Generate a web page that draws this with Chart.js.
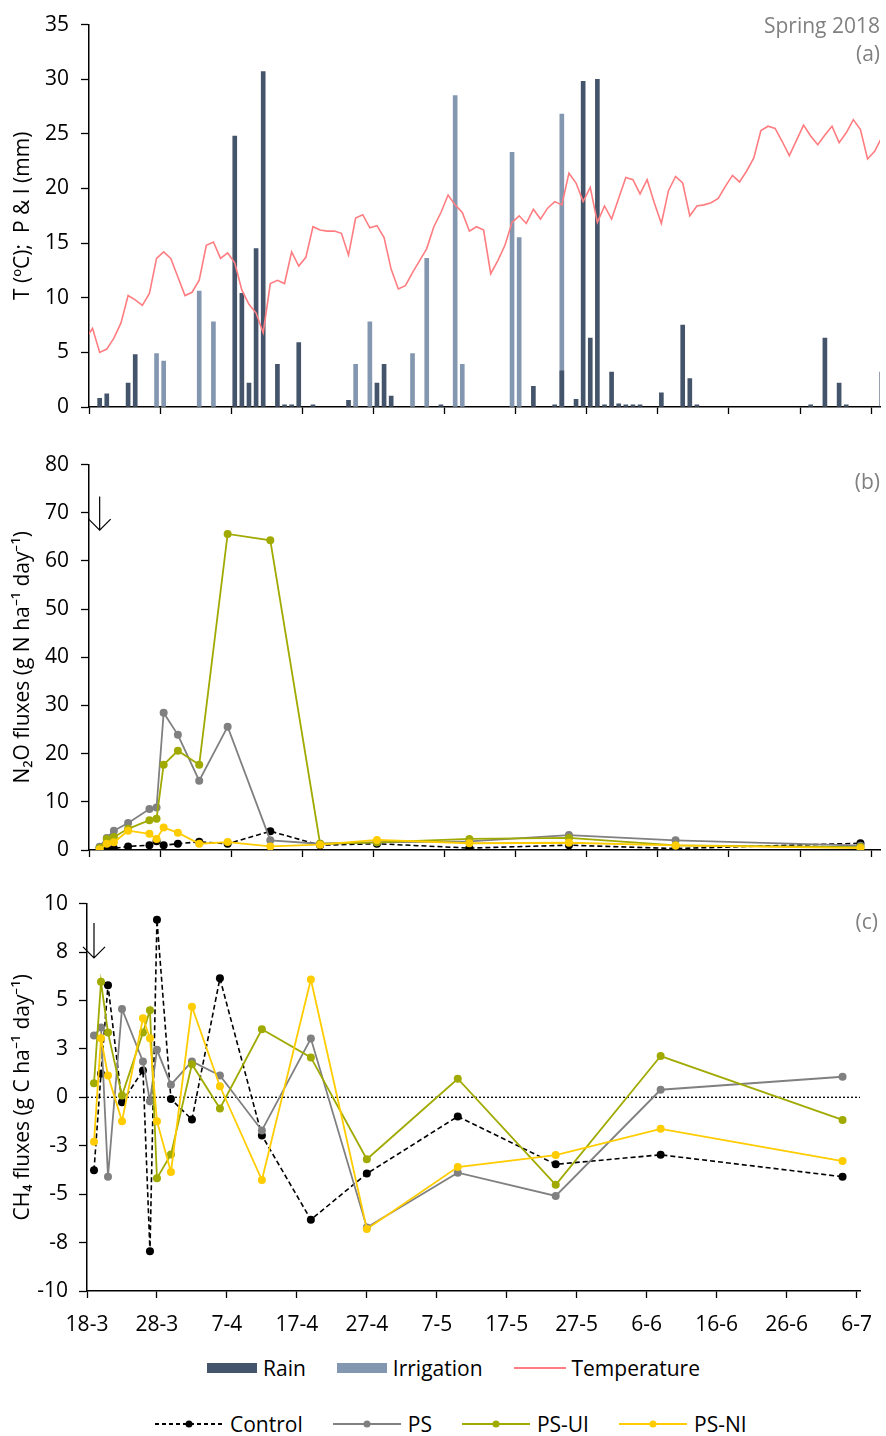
<!DOCTYPE html>
<html>
<head>
<meta charset="utf-8">
<script src="https://cdn.jsdelivr.net/npm/chart.js@4.4.1/dist/chart.umd.min.js"></script>
<style>
  body { margin: 0; background: #fff; font-family: "Open Sans", sans-serif; }
  #page { position: relative; width: 886px; height: 1436px; overflow: hidden; }
  canvas { position: absolute; left: 0; }
  .tag { position: absolute; color: #808080; font-size: 21px; line-height: 24px; text-align: right; }
  .legend { position: absolute; display: flex; align-items: center; height: 26px; font-size: 21px; color: #000; white-space: nowrap; }
  .legend .item { display: flex; align-items: center; }
  .legend svg { display: block; }
</style>
</head>
<body>
<div id="page">
  <canvas id="chartA" width="886" height="440" style="top:0"></canvas>
  <canvas id="chartB" width="886" height="440" style="top:440px"></canvas>
  <canvas id="chartC" width="886" height="470" style="top:880px"></canvas>
  <div class="tag" style="right:6px; top:13px">Spring 2018</div>
  <div class="tag" style="right:6px; top:41px">(a)</div>
  <div class="tag" style="right:6px; top:469px">(b)</div>
  <div class="tag" style="right:8px; top:909px">(c)</div>
  <div class="legend" id="legendWeather" style="left:207px; top:1355px"></div>
  <div class="legend" id="legendSeries" style="left:155px; top:1411px"></div>
</div>
<script>
// x values are days since 18-3 (2018)
const dateLabels = ["18-3", "28-3", "7-4", "17-4", "27-4", "7-5", "17-5", "27-5", "6-6", "16-6", "26-6", "6-7"]

// (a) daily mean air temperature, first value is 17-3 (day -1)
const tempC = [6.2, 7.2, 5.0, 5.3, 6.3, 7.7, 10.2, 9.8, 9.3, 10.4, 13.6, 14.2, 13.6, 11.9, 10.2, 10.5, 11.6, 14.8, 15.1, 13.6,
  14.1, 13.2, 10.7, 9.4, 8.6, 6.8, 11.3, 11.6, 11.3, 14.2, 12.9, 13.7, 16.5, 16.2, 16.1, 16.1, 15.9, 13.9, 17.3, 17.6,
  16.4, 16.6, 15.5, 12.6, 10.8, 11.1, 12.3, 13.4, 14.5, 16.5, 17.8, 19.4, 18.5, 17.8, 16.1, 16.5, 16.2, 12.2, 13.4, 14.8,
  16.9, 17.5, 16.8, 18.1, 17.2, 18.2, 18.8, 18.5, 21.4, 20.5, 18.8, 20.1, 16.9, 18.4, 17.2, 19.1, 21.0, 20.8, 19.5, 20.8,
  18.7, 16.8, 19.8, 21.1, 20.5, 17.5, 18.4, 18.5, 18.7, 19.1, 20.2, 21.2, 20.6, 21.6, 22.8, 25.3, 25.7, 25.5, 24.3, 23.0,
  24.4, 25.8, 24.8, 24.0, 24.9, 25.7, 24.2, 25.1, 26.3, 25.4, 22.7, 23.4, 24.7]
const tempFirstDay = -1

// (a) rain and irrigation (mm)
const rainDays = [1, 2, 5, 6, 20, 21, 22, 23, 24, 26, 27, 28, 29, 31, 36, 40, 41, 42, 49, 62, 65, 66, 68, 69, 70, 71, 72, 73, 74, 75, 76, 77, 80, 83, 84, 85, 101, 103, 105, 106, 111]
const rainMm = [0.8, 1.2, 2.2, 4.8, 24.8, 10.4, 2.2, 14.5, 30.7, 3.9, 0.2, 0.2, 5.9, 0.2, 0.6, 2.2, 3.9, 1.0, 0.2, 1.9, 0.2, 3.3, 0.7, 29.8, 6.3, 30.0, 0.2, 3.2, 0.3, 0.2, 0.2, 0.2, 1.3, 7.5, 2.6, 0.2, 0.2, 6.3, 2.2, 0.2, 3.2]
const irrDays = [9, 10, 15, 17, 37, 39, 45, 47, 51, 52, 59, 60, 66]
const irrMm = [4.9, 4.2, 10.6, 7.8, 3.9, 7.8, 4.9, 13.6, 28.5, 3.9, 23.3, 15.5, 26.8]

// (b) and (c) sampling days and fluxes
const sampleDays = [1, 2, 3, 5, 8, 9, 10, 12, 15, 19, 25, 32, 40, 53, 67, 82, 108]
const seriesNames = ["Control", "PS", "PS-UI", "PS-NI"]
const seriesColors = ["#000000", "#808080", "#a0aa00", "#ffcc00"]

const n2oControl = [0.5, 0.4, 0.3, 0.75, 1.0, 1.8, 1.0, 1.3, 1.7, 1.3, 3.9, 1.0, 1.3, 0.4, 1.0, 0.3, 1.4]
const n2oPS = [0.7, 2.5, 4.0, 5.6, 8.5, 8.8, 28.5, 23.9, 14.4, 25.6, 2.0, 1.3, 1.6, 1.8, 3.1, 2.0, 0.9]
const n2oPSUI = [0.4, 2.3, 2.7, 4.4, 6.2, 6.5, 17.7, 20.6, 17.7, 65.6, 64.3, 1.3, 1.6, 2.3, 2.5, 0.95, 0.6]
const n2oPSNI = [0.1, 1.3, 1.6, 4.0, 3.35, 2.3, 4.65, 3.6, 1.3, 1.65, 0.75, 1.1, 2.1, 1.4, 1.5, 0.95, 0.4]

const ch4Control = [-3.77, 1.22, 5.79, -0.26, 1.39, -7.95, 9.17, -0.09, -1.15, 6.14, -1.97, -6.32, -3.94, -0.99, -3.46, -2.97, -4.10]
const ch4PS = [3.19, 3.6, -4.1, 4.56, 1.85, -0.2, 2.45, 0.65, 1.85, 1.13, -1.71, 3.03, -6.72, -3.89, -5.09, 0.39, 1.06]
const ch4PSUI = [0.72, 5.96, 3.34, 0.09, 3.34, 4.5, -4.18, -2.95, 1.71, -0.58, 3.51, 2.06, -3.2, 0.96, -4.52, 2.13, -1.17]
const ch4PSNI = [-2.3, 3.05, 1.13, -1.23, 4.08, 3.05, -1.23, -3.86, 4.68, 0.57, -4.27, 6.08, -6.8, -3.6, -2.98, -1.63, -3.29]
const ch4TickLabels = ["-10", "-8", "-5", "-3", "0", "3", "5", "8", "10"]

// fertiliser application marker (day, arrow top, arrow tip)
const fertDay = 1
const n2oArrow = [73.4, 66.4]
const ch4Arrow = [9.0, 7.2]

Chart.defaults.font.family = "'Open Sans', sans-serif"
Chart.defaults.font.size = 21
Chart.defaults.color = "#000"

const tickFont = { size: 21 }

const arrowPlugin = {
  id: "arrow",
  afterDatasetsDraw(chart, args, opts) {
    const { ctx, scales } = chart
    const px = scales.x.getPixelForValue(opts.x)
    const top = scales.y.getPixelForValue(opts.from)
    const tip = scales.y.getPixelForValue(opts.to)
    ctx.save()
    ctx.strokeStyle = "#000"
    ctx.lineWidth = 1.2
    ctx.beginPath()
    ctx.moveTo(px, top)
    ctx.lineTo(px, tip)
    ctx.moveTo(px - 11, tip - 11)
    ctx.lineTo(px, tip)
    ctx.lineTo(px + 11, tip - 11)
    ctx.stroke()
    ctx.restore()
  },
}

const zeroLinePlugin = {
  id: "zeroLine",
  beforeDatasetsDraw(chart) {
    const { ctx, chartArea, scales } = chart
    const y = scales.y.getPixelForValue(0)
    ctx.save()
    ctx.strokeStyle = "#000"
    ctx.lineWidth = 1.3
    ctx.setLineDash([2, 2])
    ctx.beginPath()
    ctx.moveTo(chartArea.left, y)
    ctx.lineTo(chartArea.right, y)
    ctx.stroke()
    ctx.restore()
  },
}

function xAxis(max, height, showLabels) {
  return {
    type: "linear", min: 0, max, offset: false,
    ticks: {
      stepSize: 10, includeBounds: false, display: showLabels, font: tickFont, padding: 14,
      maxRotation: 0, autoSkip: false,
      callback: (v) => dateLabels[Math.round(v / 10)],
    },
    grid: { offset: false, drawOnChartArea: false, tickLength: 7, tickColor: "#000", tickWidth: 1.3 },
    border: { color: "#000", width: 1.5 },
    afterFit: (s) => { s.height = height },
  }
}

function yAxis(min, max, step, width, title, padding) {
  return {
    min, max,
    ticks: { stepSize: step, font: tickFont, padding },
    grid: { drawOnChartArea: false, tickLength: 8, tickColor: "#000", tickWidth: 1.3 },
    border: { color: "#000", width: 1.5 },
    title: { display: true, text: title, font: { size: 21 }, padding: { top: 10, bottom: 0 } },
    afterFit: (s) => { s.width = width },
  }
}

function fluxSets(values, shift) {
  return values.map((vals, k) => ({
    type: "line",
    label: seriesNames[k],
    data: sampleDays.map((d, i) => ({ x: d + shift, y: vals[i] })),
    borderColor: seriesColors[k],
    backgroundColor: seriesColors[k],
    borderWidth: k === 0 ? 1.6 : 1.8,
    borderDash: k === 0 ? [5, 3] : [],
    pointRadius: 4,
    pointBorderWidth: 0,
    pointBackgroundColor: seriesColors[k],
    order: 3 - k,
  }))
}

const common = {
  responsive: false,
  animation: false,
  devicePixelRatio: 1,
  plugins: { legend: { display: false }, tooltip: { enabled: false } },
}

// (a) weather
new Chart(document.getElementById("chartA"), {
  type: "bar",
  data: {
    datasets: [
      {
        type: "line", label: "Temperature",
        data: tempC.map((t, i) => ({ x: tempFirstDay + i + 0.5, y: t })),
        borderColor: "#ff7c80", borderWidth: 1.6, pointRadius: 0, order: 0,
      },
      {
        label: "Rain",
        data: rainDays.map((d, i) => ({ x: d + 0.5, y: rainMm[i] })),
        backgroundColor: "#44546a", barThickness: 4, grouped: false, order: 1,
      },
      {
        label: "Irrigation",
        data: irrDays.map((d, i) => ({ x: d + 0.5, y: irrMm[i] })),
        backgroundColor: "#8497b0", barThickness: 4, grouped: false, order: 2,
      },
    ],
  },
  options: {
    ...common,
    layout: { padding: { top: 19, right: 6, left: 0, bottom: 0 } },
    scales: {
      x: xAxis(111.25, 33, false),
      y: yAxis(0, 35, 5, 89, "T (ºC);  P & I (mm)", 12),
    },
  },
})

// (b) N2O
new Chart(document.getElementById("chartB"), {
  type: "line",
  data: { datasets: fluxSets([n2oControl, n2oPS, n2oPSUI, n2oPSNI], 0.5) },
  options: {
    ...common,
    layout: { padding: { top: 21, right: 6, left: 0, bottom: 0 } },
    plugins: { ...common.plugins, arrow: { x: fertDay + 0.5, from: n2oArrow[0], to: n2oArrow[1] } },
    scales: {
      x: xAxis(111.25, 30, false),
      y: yAxis(0, 80, 10, 89, "N₂O fluxes (g N ha⁻¹ day⁻¹)", 12),
    },
  },
  plugins: [arrowPlugin],
})

// (c) CH4
new Chart(document.getElementById("chartC"), {
  type: "line",
  data: { datasets: fluxSets([ch4Control, ch4PS, ch4PSUI, ch4PSNI], 0) },
  options: {
    ...common,
    layout: { padding: { top: 22, right: 18, left: 0, bottom: 0 } },
    plugins: { ...common.plugins, arrow: { x: fertDay, from: ch4Arrow[0], to: ch4Arrow[1] } },
    scales: {
      x: xAxis(110.5, 59, true),
      y: {
        ...yAxis(-10, 10, 2.5, 87, "CH₄ fluxes (g C ha⁻¹ day⁻¹)", 11),
        ticks: { stepSize: 2.5, font: tickFont, padding: 11, callback: (v) => ch4TickLabels[Math.round((v + 10) / 2.5)] },
      },
    },
  },
  plugins: [zeroLinePlugin, arrowPlugin],
})

// legends
const weatherNames = ["Rain", "Irrigation", "Temperature"]
const weatherColors = ["#44546a", "#8497b0", "#ff7c80"]

function swatchWeather(k) {
  if (k < 2) return `<svg width="50" height="10"><rect x="0" y="0" width="50" height="10" fill="${weatherColors[k]}"/></svg>`
  return `<svg width="52" height="10"><line x1="0" y1="5" x2="52" y2="5" stroke="${weatherColors[k]}" stroke-width="2"/></svg>`
}

function swatchSeries(k) {
  const dash = k === 0 ? ' stroke-dasharray="4 3"' : ""
  return `<svg width="68" height="12"><line x1="0" y1="6" x2="68" y2="6" stroke="${seriesColors[k]}" stroke-width="1.8"${dash}/>` +
    `<circle cx="34" cy="6" r="3.5" fill="${seriesColors[k]}"/></svg>`
}

document.getElementById("legendWeather").innerHTML = weatherNames.map((n, k) =>
  `<div class="item" style="margin-right:${k < 2 ? 31 : 0}px">${swatchWeather(k)}<span style="margin-left:6px">${n}</span></div>`).join("")

document.getElementById("legendSeries").innerHTML = seriesNames.map((n, k) =>
  `<div class="item" style="margin-right:${k < 3 ? 30 : 0}px">${swatchSeries(k)}<span style="margin-left:7px">${n}</span></div>`).join("")
</script>
</body>
</html>
